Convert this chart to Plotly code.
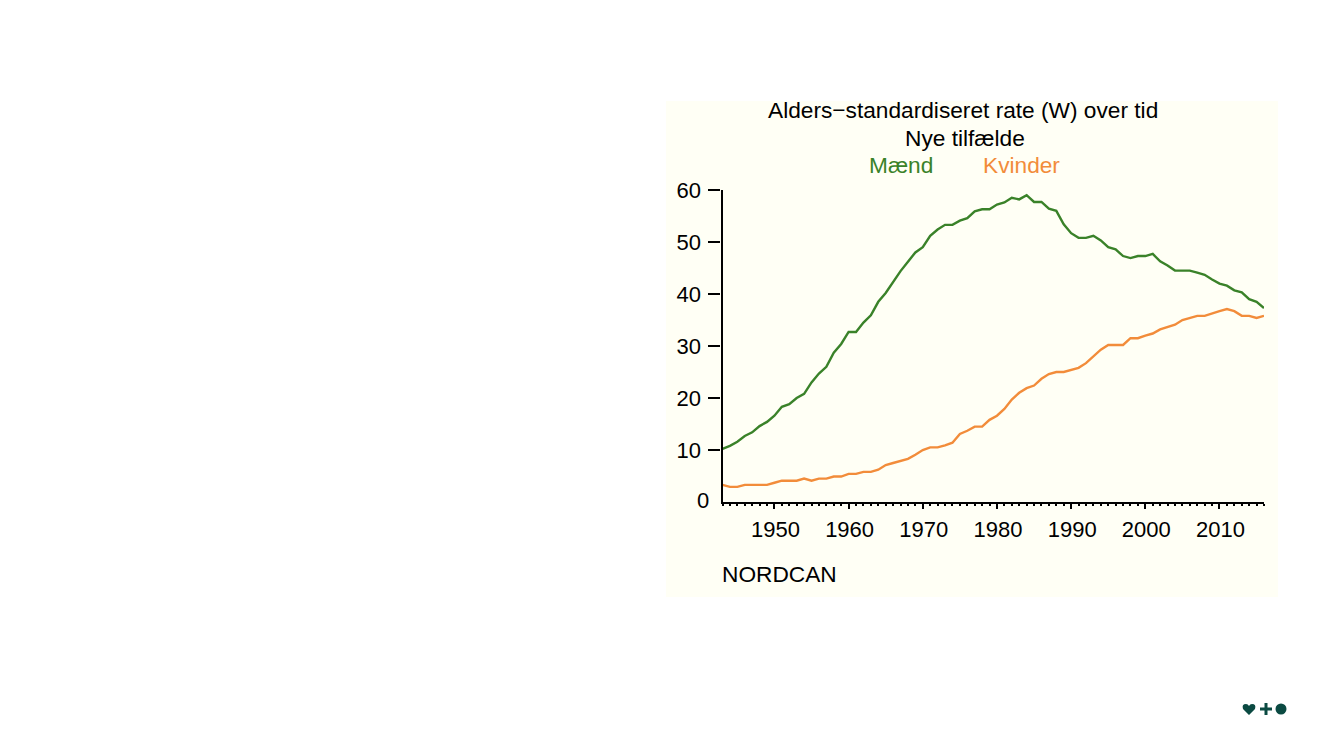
import plotly.graph_objects as go

W, H = 1333, 750

years = list(range(1943, 2017))
maend = [10.2, 10.8, 11.6, 12.7, 13.4, 14.6, 15.4, 16.6, 18.3, 18.8,
         20.0, 20.8, 23.0, 24.7, 26.0, 28.7, 30.4, 32.7, 32.7, 34.5,
         35.9, 38.5, 40.2, 42.3, 44.4, 46.2, 48.0, 49.0, 51.2, 52.4,
         53.3, 53.3, 54.1, 54.6, 55.9, 56.3, 56.3, 57.2, 57.6, 58.5,
         58.2, 59.0, 57.7, 57.7, 56.4, 56.0, 53.4, 51.7, 50.8, 50.8,
         51.2, 50.3, 49.0, 48.6, 47.3, 46.9, 47.3, 47.3, 47.7, 46.3,
         45.5, 44.5, 44.5, 44.5, 44.1, 43.7, 42.8, 42.0, 41.6, 40.7,
         40.3, 39.0, 38.5, 37.3]
kvinder = [3.3, 2.9, 2.9, 3.3, 3.3, 3.3, 3.3, 3.7, 4.1, 4.1,
           4.1, 4.5, 4.1, 4.5, 4.5, 4.9, 4.9, 5.4, 5.4, 5.8,
           5.8, 6.2, 7.1, 7.5, 7.9, 8.3, 9.1, 10.0, 10.5, 10.5,
           10.9, 11.4, 13.1, 13.7, 14.5, 14.5, 15.8, 16.6, 17.9, 19.7,
           21.0, 21.9, 22.4, 23.7, 24.6, 25.0, 25.0, 25.4, 25.8, 26.7,
           28.0, 29.3, 30.2, 30.2, 30.2, 31.5, 31.5, 32.0, 32.4, 33.2,
           33.7, 34.1, 35.0, 35.4, 35.8, 35.8, 36.3, 36.7, 37.1, 36.7,
           35.8, 35.8, 35.4, 35.8]
x_ticks = [1950, 1960, 1970, 1980, 1990, 2000, 2010]
y_ticks = [10, 20, 30, 40, 50, 60]

GREEN = "#3A8229"
ORANGE = "#F28C3A"
BG = "#FFFFF5"
LOGO = "#0B4A42"
FONT = "Liberation Sans"
TEXT_SIZE = 22.7
TICK_SIZE = 22


def px(x):
    return x / W


def py(y):
    return 1 - y / H


fig = go.Figure()
fig.add_trace(go.Scatter(x=years, y=maend, mode="lines", line=dict(color=GREEN, width=2.4)))
fig.add_trace(go.Scatter(x=years, y=kvinder, mode="lines", line=dict(color=ORANGE, width=2.4)))

texts = [
    ("Alders\u2212standardiseret rate (W) over tid", 963, 110.5, "center", "black"),
    ("Nye tilfælde", 965, 138.5, "center", "black"),
    ("Mænd", 901, 165, "center", GREEN),
    ("Kvinder", 1021, 165, "center", ORANGE),
    ("NORDCAN", 720, 573.5, "left", "black"),
]
for txt, x, y, anchor, col in texts:
    fig.add_annotation(text=txt, x=px(x), y=py(y), xref="paper", yref="paper",
                       xanchor=anchor, yanchor="middle", showarrow=False,
                       font=dict(family=FONT, size=TEXT_SIZE, color=col))

# the zero has no tick and sits closer to the axis than the other y labels
fig.add_annotation(text="0", x=px(702.5), y=py(500), xref="paper", yref="paper",
                   xanchor="center", yanchor="middle", showarrow=False,
                   font=dict(family=FONT, size=TICK_SIZE, color="black"))

# pale panel behind the chart
fig.add_shape(type="rect", xref="paper", yref="paper", layer="below", line_width=0,
              x0=px(666), x1=px(1278), y0=py(597), y1=py(101), fillcolor=BG)

# small logo bottom right
fig.add_shape(type="path", xref="paper", yref="paper", line_width=0, fillcolor=LOGO,
              path=f"M {px(1249)} {py(715)} L {px(1243)} {py(709)} "
                   f"Q {px(1241.5)} {py(704)} {px(1246)} {py(704)} "
                   f"Q {px(1248)} {py(704)} {px(1249)} {py(706)} "
                   f"Q {px(1250)} {py(704)} {px(1252)} {py(704)} "
                   f"Q {px(1256.5)} {py(704)} {px(1255)} {py(709)} Z")
fig.add_shape(type="rect", xref="paper", yref="paper", line_width=0, fillcolor=LOGO,
              x0=px(1260), x1=px(1272), y0=py(710.5), y1=py(707.5))
fig.add_shape(type="rect", xref="paper", yref="paper", line_width=0, fillcolor=LOGO,
              x0=px(1264.5), x1=px(1267.5), y0=py(715), y1=py(703))
fig.add_shape(type="circle", xref="paper", yref="paper", line_width=0, fillcolor=LOGO,
              x0=px(1275.5), x1=px(1286.5), y0=py(714.5), y1=py(703.5))

fig.update_layout(
    width=W, height=H, showlegend=False,
    margin=dict(l=0, r=0, t=0, b=0, autoexpand=False),
    paper_bgcolor="white", plot_bgcolor="rgba(0,0,0,0)",
    font=dict(family=FONT, size=TICK_SIZE, color="black"),
    xaxis=dict(domain=[px(722.5), px(1264)], range=[1943, 2016],
               tickvals=x_ticks, ticks="outside", ticklen=5, tickwidth=1.5,
               tickcolor="black", showgrid=False, zeroline=False,
               showline=True, linecolor="black", linewidth=2.4,
               ticklabelstandoff=1, ticklabelshift=1,
               minor=dict(dtick=1, ticks="outside", ticklen=2, tickwidth=1.5,
                          tickcolor="black", showgrid=False)),
    yaxis=dict(domain=[py(502), py(190)], range=[0, 60],
               tickvals=y_ticks, ticks="outside", ticklen=12,
               tickwidth=1.5, tickcolor="black", showgrid=False, zeroline=False,
               showline=True, linecolor="black", linewidth=2.4,
               ticklabelstandoff=3),
)

fig.write_html("out.html", config=dict(displayModeBar=False),
               post_script="document.body.style.margin='0';")
